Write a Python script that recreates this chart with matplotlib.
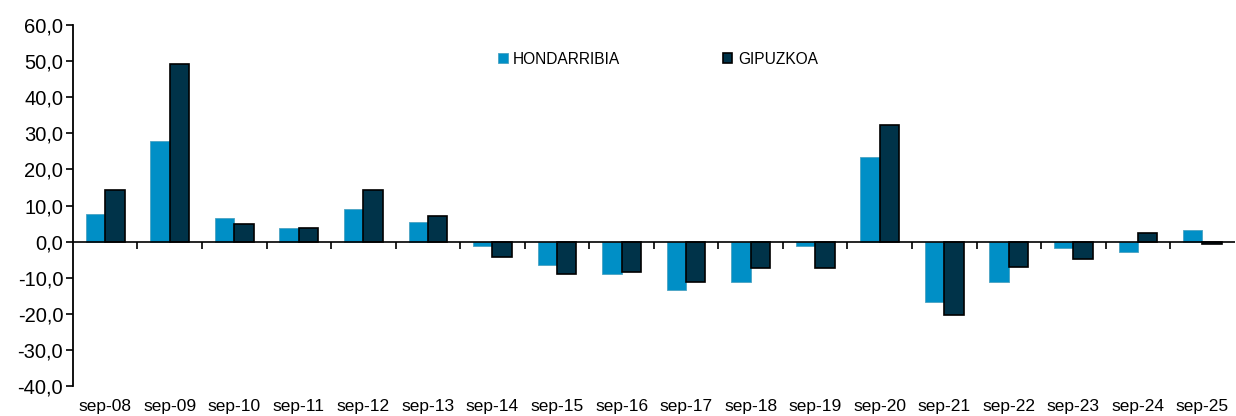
import matplotlib.pyplot as plt
import numpy as np

plt.rcParams['font.family'] = ['Liberation Sans', 'DejaVu Sans']

categories = ['sep-08', 'sep-09', 'sep-10', 'sep-11', 'sep-12', 'sep-13', 'sep-14',
              'sep-15', 'sep-16', 'sep-17', 'sep-18', 'sep-19', 'sep-20', 'sep-21',
              'sep-22', 'sep-23', 'sep-24', 'sep-25']
hondarribia = [7.6, 27.8, 6.5, 3.7, 9.1, 5.4, -1.2, -6.5, -9.1, -13.3, -11.2, -1.2,
               23.4, -16.6, -11.3, -1.8, -2.8, 3.3]
gipuzkoa = [14.3, 49.2, 4.8, 3.7, 14.3, 7.0, -4.3, -9.1, -8.5, -11.1, -7.4, -7.4,
            32.3, -20.2, -7.1, -4.9, 2.3, -0.7]
yticks = np.arange(-40, 61, 10)

light = '#008fc6'
dark = '#003349'

fig = plt.figure(figsize=(12.36, 4.16), dpi=100)
ax = fig.add_axes([0.059, 0.072, 0.94, 0.868])

x = np.arange(len(categories))
w = 0.3
ax.bar(x - w / 2, hondarribia, w, color=light, edgecolor='#4aa3c2', linewidth=0.6,
       label='HONDARRIBIA', zorder=2)
ax.bar(x + w / 2, gipuzkoa, w, color=dark, edgecolor='black', linewidth=1.2,
       label='GIPUZKOA', zorder=2)

ax.set_xlim(-0.5, len(categories) - 0.5)
ax.set_ylim(-40, 60)
ax.set_yticks(yticks)
ax.set_yticklabels([f'{v:.1f}'.replace('.', ',') for v in yticks], fontsize=14.5)
ax.tick_params(axis='y', direction='out', length=5, width=1.2, pad=2)

ax.set_xticks(x)
ax.set_xticklabels(categories, fontsize=12.5)
ax.tick_params(axis='x', length=0, pad=9)

for s in ['top', 'right', 'bottom']:
    ax.spines[s].set_visible(False)
ax.spines['left'].set_linewidth(1.3)

# eje horizontal en cero con marcas entre categorias
ax.axhline(0, color='black', linewidth=1.2, zorder=3)
sec = ax.secondary_xaxis(0.4)
sec.set_xticks(np.arange(0.5, len(categories) - 0.5, 1))
sec.set_xticklabels([])
sec.tick_params(direction='out', length=5, width=1.2)
sec.spines['bottom'].set_visible(False)

fig.legend(loc='center left', bbox_to_anchor=(0.397, 0.858), ncol=2, frameon=False,
           fontsize=11.2, borderpad=0, handlelength=0.6, handleheight=0.6,
           handletextpad=0.35, columnspacing=6.6)

fig.savefig('out.png', dpi=100)
